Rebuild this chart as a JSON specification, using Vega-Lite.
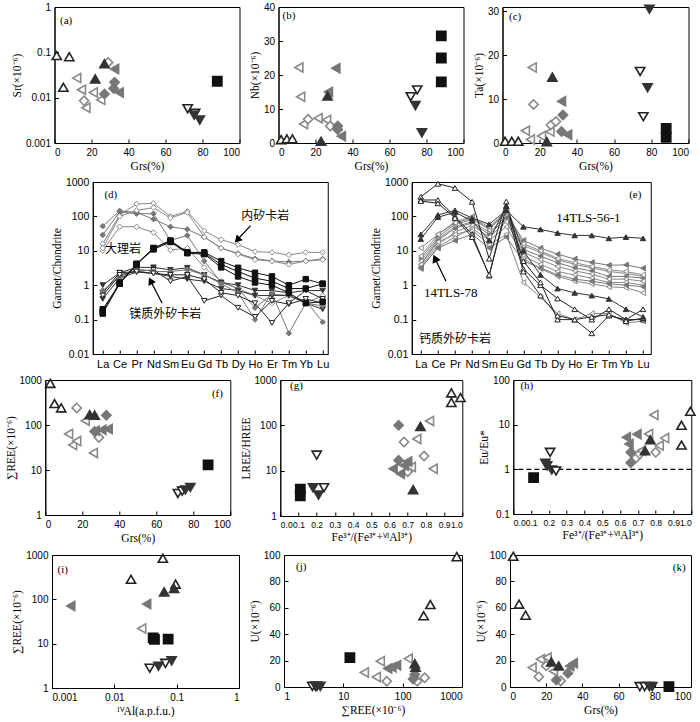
{
"$schema":"https://vega.github.io/schema/vega-lite/v6.json",
"background":"white",
"padding":{"left":4,"top":1,"right":2,"bottom":0},
"spacing":4,
"center":true,
"config":{
 "view":{"stroke":"black","strokeWidth":1},
 "axis":{"grid":false,"tickCount":60,"labelOverlap":false,"labelBound":false,"domainColor":"black","domainWidth":1,"tickColor":"black","tickSize":-4,"labelPadding":8,"labelFont":"Liberation Sans","labelFontSize":10,"labelColor":"black","titleFont":"Liberation Serif","titleFontSize":11.5,"titleFontWeight":"normal","titleColor":"black","titlePadding":3},
 "text":{"color":"black"}
},
"datasets":{
"pts":[
{"p":"a","g":"A","x":1.2,"y":0.085},{"p":"a","g":"A","x":8,"y":0.08},{"p":"a","g":"A","x":4.8,"y":0.017},
{"p":"a","g":"C","x":12,"y":0.027},{"p":"a","g":"C","x":14.6,"y":0.015},{"p":"a","g":"C","x":17,"y":0.006},{"p":"a","g":"C","x":21,"y":0.013},{"p":"a","g":"C","x":25,"y":0.009},
{"p":"a","g":"E","x":29,"y":0.06},{"p":"a","g":"E","x":16,"y":0.0085},
{"p":"a","g":"D","x":32.5,"y":0.043},{"p":"a","g":"D","x":35,"y":0.013},
{"p":"a","g":"F","x":27,"y":0.012},{"p":"a","g":"F","x":32.5,"y":0.022},{"p":"a","g":"F","x":32,"y":0.016},
{"p":"a","g":"B","x":27,"y":0.056},{"p":"a","g":"B","x":22,"y":0.026},
{"p":"a","g":"G","x":72,"y":0.0057},{"p":"a","g":"G","x":76,"y":0.0045},
{"p":"a","g":"H","x":75.5,"y":0.0041},{"p":"a","g":"H","x":78.5,"y":0.0032},
{"p":"a","g":"I","x":88,"y":0.023},

{"p":"b","g":"A","x":1.4,"y":1},{"p":"b","g":"A","x":4.5,"y":1.2},{"p":"b","g":"A","x":7.5,"y":1.2},
{"p":"b","g":"C","x":11,"y":22.2},{"p":"b","g":"C","x":12,"y":13.6},{"p":"b","g":"C","x":13.5,"y":5.6},{"p":"b","g":"C","x":21.4,"y":7.3},{"p":"b","g":"C","x":26,"y":6.8},
{"p":"b","g":"E","x":16,"y":7},{"p":"b","g":"E","x":28,"y":5},
{"p":"b","g":"D","x":31,"y":22},{"p":"b","g":"D","x":34,"y":2},{"p":"b","g":"D","x":27,"y":15},
{"p":"b","g":"F","x":32,"y":5},{"p":"b","g":"F","x":32,"y":4},
{"p":"b","g":"B","x":23,"y":0.5},{"p":"b","g":"B","x":26.5,"y":13.8},
{"p":"b","g":"G","x":71.5,"y":13.6},{"p":"b","g":"G","x":75,"y":15.6},
{"p":"b","g":"H","x":74,"y":11},{"p":"b","g":"H","x":77.5,"y":3},
{"p":"b","g":"I","x":88,"y":31.5},{"p":"b","g":"I","x":88,"y":25},{"p":"b","g":"I","x":88,"y":18},

{"p":"c","g":"A","x":1.4,"y":0.4},{"p":"c","g":"A","x":5,"y":0.4},{"p":"c","g":"A","x":8.5,"y":0.4},
{"p":"c","g":"C","x":12.3,"y":2.8},{"p":"c","g":"C","x":15,"y":0.8},{"p":"c","g":"C","x":16,"y":17.2},{"p":"c","g":"C","x":21,"y":1.6},{"p":"c","g":"C","x":25.5,"y":2.6},
{"p":"c","g":"E","x":16.7,"y":8.8},{"p":"c","g":"E","x":26,"y":4.1},{"p":"c","g":"E","x":28.7,"y":4.9},
{"p":"c","g":"D","x":31.7,"y":9.5},{"p":"c","g":"D","x":35,"y":1.9},
{"p":"c","g":"F","x":32.5,"y":6.4},{"p":"c","g":"F","x":31.7,"y":2.6},
{"p":"c","g":"B","x":23.8,"y":0.3},{"p":"c","g":"B","x":26.8,"y":15},
{"p":"c","g":"G","x":74,"y":16.3},{"p":"c","g":"G","x":75.7,"y":6},
{"p":"c","g":"H","x":79,"y":30.5},{"p":"c","g":"H","x":78,"y":12.6},
{"p":"c","g":"I","x":88,"y":3.3},{"p":"c","g":"I","x":88,"y":1.3},

{"p":"f","g":"A","x":2.7,"y":840},{"p":"f","g":"A","x":5,"y":300},{"p":"f","g":"A","x":8.6,"y":240},
{"p":"f","g":"C","x":12.6,"y":63},{"p":"f","g":"C","x":14.8,"y":36},{"p":"f","g":"C","x":17,"y":44},{"p":"f","g":"C","x":21.6,"y":125},{"p":"f","g":"C","x":26,"y":24},
{"p":"f","g":"E","x":17,"y":240},{"p":"f","g":"E","x":29,"y":53},
{"p":"f","g":"D","x":27,"y":75},{"p":"f","g":"D","x":30.6,"y":78},{"p":"f","g":"D","x":34,"y":81},
{"p":"f","g":"F","x":33,"y":165},{"p":"f","g":"F","x":26.7,"y":72},
{"p":"f","g":"B","x":24,"y":170},{"p":"f","g":"B","x":26.7,"y":165},
{"p":"f","g":"G","x":71.7,"y":3},{"p":"f","g":"G","x":74,"y":3.4},
{"p":"f","g":"H","x":75.7,"y":3.6},{"p":"f","g":"H","x":78.4,"y":4.1},
{"p":"f","g":"I","x":88,"y":13},

{"p":"g","g":"I","x":0.11,"y":3.9},{"p":"g","g":"I","x":0.11,"y":2.8},
{"p":"g","g":"H","x":0.18,"y":4.2},{"p":"g","g":"H","x":0.21,"y":2.9},
{"p":"g","g":"G","x":0.2,"y":22},{"p":"g","g":"G","x":0.24,"y":4.2},
{"p":"g","g":"E","x":0.68,"y":43},{"p":"g","g":"E","x":0.79,"y":21},{"p":"g","g":"E","x":0.7,"y":9.5},
{"p":"g","g":"C","x":0.75,"y":50},{"p":"g","g":"C","x":0.82,"y":125},{"p":"g","g":"C","x":0.72,"y":12},{"p":"g","g":"C","x":0.84,"y":11},
{"p":"g","g":"D","x":0.62,"y":11},{"p":"g","g":"D","x":0.66,"y":8.5},{"p":"g","g":"D","x":0.7,"y":16},{"p":"g","g":"D","x":0.68,"y":13},
{"p":"g","g":"F","x":0.65,"y":100},{"p":"g","g":"F","x":0.65,"y":17},
{"p":"g","g":"B","x":0.77,"y":95},{"p":"g","g":"B","x":0.73,"y":3.8},
{"p":"g","g":"A","x":0.94,"y":520},{"p":"g","g":"A","x":0.94,"y":320},{"p":"g","g":"A","x":0.99,"y":410},

{"p":"h","g":"I","x":0.114,"y":0.65},
{"p":"h","g":"H","x":0.18,"y":1.37},{"p":"h","g":"H","x":0.19,"y":1.2},{"p":"h","g":"H","x":0.216,"y":0.97},
{"p":"h","g":"G","x":0.207,"y":2.4},{"p":"h","g":"G","x":0.24,"y":0.92},
{"p":"h","g":"E","x":0.69,"y":1.8},{"p":"h","g":"E","x":0.8,"y":2.4},{"p":"h","g":"E","x":0.71,"y":2.2},
{"p":"h","g":"C","x":0.79,"y":16.5},{"p":"h","g":"C","x":0.76,"y":6.2},{"p":"h","g":"C","x":0.85,"y":5},{"p":"h","g":"C","x":0.82,"y":3.4},{"p":"h","g":"C","x":0.72,"y":2.6},
{"p":"h","g":"D","x":0.635,"y":5.2},{"p":"h","g":"D","x":0.695,"y":6.1},{"p":"h","g":"D","x":0.65,"y":3.7},
{"p":"h","g":"F","x":0.66,"y":2.4},{"p":"h","g":"F","x":0.66,"y":1.4},
{"p":"h","g":"B","x":0.77,"y":4.6},{"p":"h","g":"B","x":0.74,"y":2.6},
{"p":"h","g":"A","x":0.995,"y":20},{"p":"h","g":"A","x":0.945,"y":9.7},{"p":"h","g":"A","x":0.945,"y":3.5},

{"p":"i","g":"A","x":0.06,"y":845},{"p":"i","g":"A","x":0.0185,"y":283},{"p":"i","g":"A","x":0.096,"y":220},
{"p":"i","g":"B","x":0.063,"y":147},{"p":"i","g":"B","x":0.091,"y":175},
{"p":"i","g":"D","x":0.002,"y":71},{"p":"i","g":"D","x":0.033,"y":78},
{"p":"i","g":"C","x":0.0275,"y":22},
{"p":"i","g":"I","x":0.042,"y":13.5},{"p":"i","g":"I","x":0.044,"y":12.5},{"p":"i","g":"I","x":0.073,"y":12.7},
{"p":"i","g":"G","x":0.037,"y":2.8},{"p":"i","g":"G","x":0.066,"y":3.6},
{"p":"i","g":"H","x":0.051,"y":3.1},{"p":"i","g":"H","x":0.083,"y":4.1},

{"p":"j","g":"A","x":815,"y":98.7},{"p":"j","g":"A","x":293,"y":62.5},{"p":"j","g":"A","x":226,"y":54},
{"p":"j","g":"I","x":12.9,"y":22.3},
{"p":"j","g":"G","x":3.0,"y":0.5},{"p":"j","g":"G","x":3.4,"y":0.5},
{"p":"j","g":"H","x":3.6,"y":0.5},{"p":"j","g":"H","x":4.1,"y":0.5},
{"p":"j","g":"C","x":22.6,"y":11},{"p":"j","g":"C","x":36,"y":7.6},{"p":"j","g":"C","x":42,"y":19.5},{"p":"j","g":"C","x":124,"y":21.5},
{"p":"j","g":"D","x":56,"y":14},{"p":"j","g":"D","x":66,"y":15},{"p":"j","g":"D","x":79,"y":16.5},
{"p":"j","g":"E","x":54,"y":4.3},{"p":"j","g":"E","x":176,"y":4.3},{"p":"j","g":"E","x":235,"y":7},
{"p":"j","g":"F","x":160,"y":9.4},{"p":"j","g":"F","x":150,"y":6},
{"p":"j","g":"B","x":160,"y":17.7},{"p":"j","g":"B","x":165,"y":15},

{"p":"k","g":"A","x":1.8,"y":99},{"p":"k","g":"A","x":5,"y":62.8},{"p":"k","g":"A","x":8.6,"y":54.4},
{"p":"k","g":"C","x":12.2,"y":14.7},{"p":"k","g":"C","x":16.8,"y":21},{"p":"k","g":"C","x":20.5,"y":22.3},{"p":"k","g":"C","x":24,"y":12},
{"p":"k","g":"E","x":15.9,"y":7.8},{"p":"k","g":"E","x":28,"y":4.6},{"p":"k","g":"E","x":20,"y":16},
{"p":"k","g":"D","x":33,"y":16},{"p":"k","g":"D","x":35,"y":18},
{"p":"k","g":"F","x":32,"y":10.4},{"p":"k","g":"F","x":25.6,"y":5.3},
{"p":"k","g":"B","x":22.8,"y":19},{"p":"k","g":"B","x":26.9,"y":16},
{"p":"k","g":"G","x":71.7,"y":0.3},{"p":"k","g":"G","x":74.4,"y":0.3},
{"p":"k","g":"H","x":77,"y":0.3},{"p":"k","g":"H","x":78.6,"y":0.3},
{"p":"k","g":"I","x":87.8,"y":0.3}
],
"ree":[
{"p":"d","id":"d1","g":"E","i":[1,2,3,4,5,6,7,8,9,10,11,12,13,14],"v":[16,110,230,240,100,140,38,21,15,9.5,9,7.6,9,9]},
{"p":"d","id":"d2","g":"F","i":[1,2,3,4,5,6,7,8,9,10,11,12,13,14],"v":[52,145,130,83,50,42,25,12,8.4,5.9,5.1,4.7,5.1,5.8]},
{"p":"d","id":"d3","g":"F","i":[1,2,3,4,5,6,7,8,9,10,11,12,13,14],"v":[29,135,120,120,20,28,5,1.2,0.8,0.22,0.55,0.5,0.35,0.085]},
{"p":"d","id":"d4","g":"E","i":[1,2,3,4,5,6,7,8,9,10,11,12,13,14],"v":[10,50,50,34,10.5,12,3.3,1.3,0.8,0.5,0.3,0.5,0.3,0.5]},
{"p":"d","id":"d5","g":"E","i":[1,2,3,4,5,6,7,8,9,10,11,12,13,14],"v":[12,100,150,180,90,130,25,12,8,5.5,5,4,5,5.5]},
{"p":"d","id":"d9","g":"H","i":[1,2,3,4,5,6,7,8,9,10,11,12,13,14],"v":[1.0,2.3,3.3,3.3,2.8,3.2,2.0,1.2,1.0,0.7,0.7,0.6,0.7,0.7]},
{"p":"d","id":"d10","g":"G","i":[1,2,3,4,5,6,7,8,9,10,11,12,13,14],"v":[0.6,2.3,2.5,2.8,1.3,1.8,0.35,0.5,0.22,0.12,0.35,0.28,0.4,0.3]},
{"p":"d","id":"d11","g":"H","i":[1,2,3,4,5,6,7,8,9,10,11,12,13,14],"v":[0.4,1.6,2.4,2.2,1.8,1.5,1.3,0.8,0.7,0.5,0.5,0.5,0.3,0.2]},
{"p":"d","id":"d12","g":"F","i":[1,2,3,4,5,6,7,8,9,10,11,12,13,14],"v":[0.7,1.7,3,2.5,2.5,2.8,2.0,1.1,0.6,0.1,0.6,0.04,0.3,0.25]},
{"p":"d","id":"d13","g":"G","i":[1,2,3,4,5,6,7,8,9,10,11,12,13,14],"v":[0.5,2.0,2.5,2.2,2.0,2.0,1.5,0.6,0.5,0.3,0.08,0.3,0.7,0.4]},
{"p":"d","id":"d6","g":"I","i":[1,2,3,4,5,6,7,8,9,10,11,12,13,14],"v":[0.15,1.1,4.2,12,20,9,9,5,3.2,2.3,1.8,1.0,1.5,1.1]},
{"p":"d","id":"d7","g":"I","i":[1,2,3,4,5,6,7,8,9,10,11,12,13,14],"v":[0.2,1.1,4,12,19,9,8.5,4,2.5,1.6,1.3,0.8,0.8,1.1]},
{"p":"d","id":"d8","g":"I","i":[1,2,3,4,5,6,7,8,9,10,11,12,13,14],"v":[0.17,1.2,4.1,11,18,8.5,8,3.3,1.8,1.2,1.0,0.6,0.3,0.33]},

{"p":"e","id":"e6","g":"D","i":[1,2,3,4,5,6,7,8,9,10,11,12,13,14],"v":[6,25,60,80,45,120,20,12,8,5.8,4.6,3.8,3.9,3.1]},
{"p":"e","id":"e7","g":"C","i":[1,2,3,4,5,6,7,8,9,10,11,12,13,14],"v":[5,22,50,70,35,100,14,9,5.5,4,3.2,2.5,2.2,1.8]},
{"p":"e","id":"e8","g":"D","i":[1,2,3,4,5,6,7,8,9,10,11,12,13,14],"v":[4,20,45,65,30,90,11,7,4.5,3.2,2.6,1.8,1.8,1.6]},
{"p":"e","id":"e9","g":"C","i":[1,2,3,4,5,6,7,8,9,10,11,12,13,14],"v":[3.5,15,35,55,25,70,9,5.5,3.5,2.6,2.1,1.5,1.5,1.3]},
{"p":"e","id":"e10","g":"C","i":[1,2,3,4,5,6,7,8,9,10,11,12,13,14],"v":[3,13,25,45,20,50,7,4,2.5,2,1.6,1.2,1.2,1.0]},
{"p":"e","id":"e11","g":"C","i":[1,2,3,4,5,6,7,8,9,10,11,12,13,14],"v":[12,30,70,100,40,150,6,3,1.8,1.3,1.1,0.9,0.85,0.6]},
{"p":"e","id":"e12","g":"C","i":[1,2,3,4,5,6,7,8,9,10,11,12,13,14],"v":[4,18,30,40,15,30,1.2,0.45,0.15,0.1,0.15,0.15,0.08,0.09]},
{"p":"e","id":"e13","g":"D","i":[1,2,3,4,5,6,7,8,9,10,11,12,13,14],"v":[3.2,12,20,30,12,25,5,3.2,2,1.5,1.3,1.1,1.0,0.9]},
{"p":"e","id":"e14","g":"C","i":[1,2,3,4,5,6,7,8,9,10,11,12,13,14],"v":[7,30,65,90,50,130,16,10,6,4.5,3.5,2.8,2.5,2]},
{"p":"e","id":"e1","g":"A","i":[1,2,3,4,5,6,7,8,9,10,11,12,13,14],"v":[370,890,670,265,5.9,270,2.96,1.0,0.41,0.2,0.1,0.2,0.1,0.2]},
{"p":"e","id":"e2","g":"A","i":[1,2,3,4,5,6,7,8,9,10,11,12,13,14],"v":[300,300,100,30,1.9,200,5,1.2,0.1,0.1,0.04,0.13,0.1,0.1]},
{"p":"e","id":"e3","g":"A","i":[1,2,3,4,5,6,7,8,9,10,11,12,13,14],"v":[280,240,90,25,2,150,2.5,0.5,0.13,0.1,0.12,0.14,0.09,0.11]},
{"p":"e","id":"e4","g":"B","i":[1,2,3,4,5,6,7,8,9,10,11,12,13,14],"v":[30,110,150,90,59,150,50,42,33,28,28,23,25,23]},
{"p":"e","id":"e5","g":"B","i":[1,2,3,4,5,6,7,8,9,10,11,12,13,14],"v":[22,95,130,75,20,200,10,2,0.8,0.6,0.5,0.4,0.2,0.12]}
]
},
"vconcat":[
{"spacing":8,"hconcat":[
 {"width":185,"height":136,"data":{"name":"pts"},"transform":[{"filter":"datum.p=='a'"}],
  "layer":[
   {"mark":{"type":"point","filled":true,"size":85,"strokeWidth":1.6,"opacity":1},
    "encoding":{
     "x":{"field":"x","type":"quantitative","scale":{"domain":[0,100],"nice":false},"axis":{"title":"Grs(%)","values":[0,20,40,60,80,100],"format":"d"}},
     "y":{"field":"y","type":"quantitative","scale":{"type":"log","domain":[0.001,1],"nice":false},"axis":{"title":"Sr(×10⁻⁶)","values":[0.001,0.01,0.1,1],"format":"~g"}},
     "shape":{"field":"g","type":"nominal","scale":{"domain":["A","B","C","D","E","F","G","H","I"],"range":["triangle-up","triangle-up","triangle-left","triangle-left","diamond","diamond","triangle-down","triangle-down","square"]},"legend":null},
     "fill":{"field":"g","type":"nominal","scale":{"domain":["A","B","C","D","E","F","G","H","I"],"range":["#ffffff","#333333","#ffffff","#777777","#ffffff","#777777","#ffffff","#333333","#111111"]},"legend":null},
     "stroke":{"field":"g","type":"nominal","scale":{"domain":["A","B","C","D","E","F","G","H","I"],"range":["#222222","#333333","#888888","#777777","#888888","#777777","#222222","#333333","#111111"]},"legend":null}}},
   {"data":{"values":[{"t":"(a)","x":3,"y":0.5}]},"mark":{"type":"text","align":"left","baseline":"middle","font":"Liberation Serif","fontSize":11},
    "encoding":{"x":{"field":"x","type":"quantitative"},"y":{"field":"y","type":"quantitative"},"text":{"field":"t"}}}
  ]},
 {"width":185,"height":136,"data":{"name":"pts"},"transform":[{"filter":"datum.p=='b'"}],
  "layer":[
   {"mark":{"type":"point","filled":true,"size":85,"strokeWidth":1.6,"opacity":1},
    "encoding":{
     "x":{"field":"x","type":"quantitative","scale":{"domain":[0,100],"nice":false},"axis":{"title":"Grs(%)","values":[0,20,40,60,80,100],"format":"d"}},
     "y":{"field":"y","type":"quantitative","scale":{"domain":[0,40],"nice":false},"axis":{"title":"Nb(×10⁻⁶)","values":[0,10,20,30,40],"format":"d"}},
     "shape":{"field":"g","type":"nominal","scale":{"domain":["A","B","C","D","E","F","G","H","I"],"range":["triangle-up","triangle-up","triangle-left","triangle-left","diamond","diamond","triangle-down","triangle-down","square"]},"legend":null},
     "fill":{"field":"g","type":"nominal","scale":{"domain":["A","B","C","D","E","F","G","H","I"],"range":["#ffffff","#333333","#ffffff","#777777","#ffffff","#777777","#ffffff","#333333","#111111"]},"legend":null},
     "stroke":{"field":"g","type":"nominal","scale":{"domain":["A","B","C","D","E","F","G","H","I"],"range":["#222222","#333333","#888888","#777777","#888888","#777777","#222222","#333333","#111111"]},"legend":null}}},
   {"data":{"values":[{"t":"(b)","x":2.2,"y":37.5}]},"mark":{"type":"text","align":"left","baseline":"middle","font":"Liberation Serif","fontSize":11},
    "encoding":{"x":{"field":"x","type":"quantitative"},"y":{"field":"y","type":"quantitative"},"text":{"field":"t"}}}
  ]},
 {"width":186,"height":136,"data":{"name":"pts"},"transform":[{"filter":"datum.p=='c'"}],
  "layer":[
   {"mark":{"type":"point","filled":true,"size":85,"strokeWidth":1.6,"opacity":1},
    "encoding":{
     "x":{"field":"x","type":"quantitative","scale":{"domain":[0,100],"nice":false},"axis":{"title":"Grs(%)","values":[0,20,40,60,80,100],"format":"d"}},
     "y":{"field":"y","type":"quantitative","scale":{"domain":[0,31],"nice":false},"axis":{"title":"Ta(×10⁻⁶)","values":[0,10,20,30],"format":"d"}},
     "shape":{"field":"g","type":"nominal","scale":{"domain":["A","B","C","D","E","F","G","H","I"],"range":["triangle-up","triangle-up","triangle-left","triangle-left","diamond","diamond","triangle-down","triangle-down","square"]},"legend":null},
     "fill":{"field":"g","type":"nominal","scale":{"domain":["A","B","C","D","E","F","G","H","I"],"range":["#ffffff","#333333","#ffffff","#777777","#ffffff","#777777","#ffffff","#333333","#111111"]},"legend":null},
     "stroke":{"field":"g","type":"nominal","scale":{"domain":["A","B","C","D","E","F","G","H","I"],"range":["#222222","#333333","#888888","#777777","#888888","#777777","#222222","#333333","#111111"]},"legend":null}}},
   {"data":{"values":[{"t":"(c)","x":3.5,"y":28.8}]},"mark":{"type":"text","align":"left","baseline":"middle","font":"Liberation Serif","fontSize":11},
    "encoding":{"x":{"field":"x","type":"quantitative"},"y":{"field":"y","type":"quantitative"},"text":{"field":"t"}}}
  ]}
]},
{"spacing":40,"hconcat":[
 {"width":235,"height":172,"data":{"name":"ree"},"transform":[{"filter":"datum.p=='d'"},{"flatten":["i","v"]}],
  "layer":[
   {"mark":{"type":"line","strokeWidth":1},
    "encoding":{
     "x":{"field":"i","type":"quantitative","scale":{"domain":[0.41,14.3],"nice":false},"axis":{"title":null,"values":[1,2,3,4,5,6,7,8,9,10,11,12,13,14],"labelExpr":"['','La','Ce','Pr','Nd','Sm','Eu','Gd','Tb','Dy','Ho','Er','Tm','Yb','Lu'][datum.value]","labelFontSize":11}},
     "y":{"field":"v","type":"quantitative","scale":{"type":"log","domain":[0.01,1000],"nice":false},"axis":{"title":"Garnet/Chondrite","values":[0.01,0.1,1,10,100,1000],"format":"~g","labelFontSize":10.5}},
     "detail":{"field":"id"},
     "stroke":{"field":"g","type":"nominal","scale":{"domain":["A","B","C","D","E","F","G","H","I"],"range":["#222222","#333333","#888888","#777777","#888888","#777777","#444444","#444444","#111111"]},"legend":null},
     "strokeWidth":{"field":"g","type":"nominal","scale":{"domain":["A","B","C","D","E","F","G","H","I"],"range":[1,1,1,1,1.2,1.2,1,1,2.2]},"legend":null}}},
   {"mark":{"type":"point","filled":true,"size":30,"strokeWidth":1,"opacity":1},
    "encoding":{
     "x":{"field":"i","type":"quantitative"},
     "y":{"field":"v","type":"quantitative"},
     "shape":{"field":"g","type":"nominal","scale":{"domain":["A","B","C","D","E","F","G","H","I"],"range":["triangle-up","triangle-up","triangle-left","triangle-left","diamond","diamond","triangle-down","triangle-down","square"]},"legend":null},
     "fill":{"field":"g","type":"nominal","scale":{"domain":["A","B","C","D","E","F","G","H","I"],"range":["#ffffff","#333333","#ffffff","#777777","#ffffff","#777777","#ffffff","#333333","#111111"]},"legend":null},
     "stroke":{"field":"g","type":"nominal","scale":{"domain":["A","B","C","D","E","F","G","H","I"],"range":["#222222","#333333","#888888","#777777","#888888","#777777","#222222","#333333","#111111"]},"legend":null}}},
   {"data":{"values":[{"t":"(d)","x":1.1,"y":415}]},"mark":{"type":"text","align":"left","baseline":"middle","font":"Liberation Serif","fontSize":11},
    "encoding":{"x":{"field":"x","type":"quantitative"},"y":{"field":"y","type":"quantitative"},"text":{"field":"t"}}},
   {"data":{"values":[{"t":"内矽卡岩","x":10.6,"y":100},{"t":"大理岩","x":2.2,"y":11},{"t":"镁质外矽卡岩","x":4.7,"y":0.15}]},"mark":{"type":"text","align":"center","baseline":"middle","font":"Noto Sans CJK SC","fontSize":12},
    "encoding":{"x":{"field":"x","type":"quantitative"},"y":{"field":"y","type":"quantitative"},"text":{"field":"t"}}},
   {"data":{"values":[{"x":9.74,"y":54,"x2":9.0,"y2":22},{"x":4.51,"y":0.3,"x2":3.86,"y2":1.25}]},"mark":{"type":"rule","strokeWidth":1.2,"color":"black"},
    "encoding":{"x":{"field":"x","type":"quantitative"},"y":{"field":"y","type":"quantitative"},"x2":{"field":"x2"},"y2":{"field":"y2"}}},
   {"data":{"values":[{"x2":9.0,"y2":22}]},"mark":{"type":"point","shape":"triangle","filled":true,"opacity":1,"color":"black","size":70,"angle":224},
    "encoding":{"x":{"field":"x2","type":"quantitative"},"y":{"field":"y2","type":"quantitative"}}},
   {"data":{"values":[{"x2":3.86,"y2":1.25}]},"mark":{"type":"point","shape":"triangle","filled":true,"opacity":1,"color":"black","size":70,"angle":333},
    "encoding":{"x":{"field":"x2","type":"quantitative"},"y":{"field":"y2","type":"quantitative"}}}
  ]},
 {"width":239,"height":172,"data":{"name":"ree"},"transform":[{"filter":"datum.p=='e'"},{"flatten":["i","v"]}],
  "layer":[
   {"mark":{"type":"line","strokeWidth":1},
    "encoding":{
     "x":{"field":"i","type":"quantitative","scale":{"domain":[0.47,14.45],"nice":false},"axis":{"title":null,"values":[1,2,3,4,5,6,7,8,9,10,11,12,13,14],"labelExpr":"['','La','Ce','Pr','Nd','Sm','Eu','Gd','Tb','Dy','Ho','Er','Tm','Yb','Lu'][datum.value]","labelFontSize":11}},
     "y":{"field":"v","type":"quantitative","scale":{"type":"log","domain":[0.01,1000],"nice":false},"axis":{"title":"Garnet/Chondrite","values":[0.01,0.1,1,10,100,1000],"format":"~g","labelFontSize":10.5}},
     "detail":{"field":"id"},
     "stroke":{"field":"g","type":"nominal","scale":{"domain":["A","B","C","D","E","F","G","H","I"],"range":["#222222","#333333","#999999","#888888","#888888","#777777","#444444","#444444","#111111"]},"legend":null}}},
   {"mark":{"type":"point","filled":true,"size":30,"strokeWidth":1,"opacity":1},
    "encoding":{
     "x":{"field":"i","type":"quantitative"},
     "y":{"field":"v","type":"quantitative"},
     "shape":{"field":"g","type":"nominal","scale":{"domain":["A","B","C","D","E","F","G","H","I"],"range":["triangle-up","triangle-up","triangle-left","triangle-left","diamond","diamond","triangle-down","triangle-down","square"]},"legend":null},
     "fill":{"field":"g","type":"nominal","scale":{"domain":["A","B","C","D","E","F","G","H","I"],"range":["#ffffff","#333333","#ffffff","#888888","#ffffff","#777777","#ffffff","#333333","#111111"]},"legend":null},
     "stroke":{"field":"g","type":"nominal","scale":{"domain":["A","B","C","D","E","F","G","H","I"],"range":["#222222","#333333","#999999","#888888","#888888","#777777","#222222","#333333","#111111"]},"legend":null}}},
   {"data":{"values":[{"t":"(e)","x":13.9,"y":430}]},"mark":{"type":"text","align":"right","baseline":"middle","font":"Liberation Serif","fontSize":11},
    "encoding":{"x":{"field":"x","type":"quantitative"},"y":{"field":"y","type":"quantitative"},"text":{"field":"t"}}},
   {"data":{"values":[{"t":"14TLS-56-1","x":10.8,"y":88},{"t":"14TLS-78","x":2.75,"y":0.6}]},"mark":{"type":"text","align":"center","baseline":"middle","font":"Liberation Serif","fontSize":13},
    "encoding":{"x":{"field":"x","type":"quantitative"},"y":{"field":"y","type":"quantitative"},"text":{"field":"t"}}},
   {"data":{"values":[{"t":"钙质外矽卡岩","x":3.0,"y":0.027}]},"mark":{"type":"text","align":"center","baseline":"middle","font":"Noto Sans CJK SC","fontSize":12},
    "encoding":{"x":{"field":"x","type":"quantitative"},"y":{"field":"y","type":"quantitative"},"text":{"field":"t"}}},
   {"data":{"values":[{"x":2.47,"y":1.3,"x2":1.86,"y2":5.6}]},"mark":{"type":"rule","strokeWidth":1.2,"color":"black"},
    "encoding":{"x":{"field":"x","type":"quantitative"},"y":{"field":"y","type":"quantitative"},"x2":{"field":"x2"},"y2":{"field":"y2"}}},
   {"data":{"values":[{"x2":1.86,"y2":5.6}]},"mark":{"type":"point","shape":"triangle","filled":true,"opacity":1,"color":"black","size":80,"angle":335},
    "encoding":{"x":{"field":"x2","type":"quantitative"},"y":{"field":"y2","type":"quantitative"}}}
  ]}
]},
{"spacing":8,"hconcat":[
 {"width":185,"height":135,"data":{"name":"pts"},"transform":[{"filter":"datum.p=='f'"}],
  "layer":[
   {"mark":{"type":"point","filled":true,"size":85,"strokeWidth":1.6,"opacity":1},
    "encoding":{
     "x":{"field":"x","type":"quantitative","scale":{"domain":[0,100],"nice":false},"axis":{"title":"Grs(%)","values":[0,20,40,60,80,100],"format":"d"}},
     "y":{"field":"y","type":"quantitative","scale":{"type":"log","domain":[1,1000],"nice":false},"axis":{"title":"∑REE(×10⁻⁶)","values":[1,10,100,1000],"format":"~g"}},
     "shape":{"field":"g","type":"nominal","scale":{"domain":["A","B","C","D","E","F","G","H","I"],"range":["triangle-up","triangle-up","triangle-left","triangle-left","diamond","diamond","triangle-down","triangle-down","square"]},"legend":null},
     "fill":{"field":"g","type":"nominal","scale":{"domain":["A","B","C","D","E","F","G","H","I"],"range":["#ffffff","#333333","#ffffff","#777777","#ffffff","#777777","#ffffff","#333333","#111111"]},"legend":null},
     "stroke":{"field":"g","type":"nominal","scale":{"domain":["A","B","C","D","E","F","G","H","I"],"range":["#222222","#333333","#888888","#777777","#888888","#777777","#222222","#333333","#111111"]},"legend":null}}},
   {"data":{"values":[{"t":"(f)","x":96,"y":500}]},"mark":{"type":"text","align":"right","baseline":"middle","font":"Liberation Serif","fontSize":11},
    "encoding":{"x":{"field":"x","type":"quantitative"},"y":{"field":"y","type":"quantitative"},"text":{"field":"t"}}}
  ]},
 {"width":182,"height":136,"data":{"name":"pts"},"transform":[{"filter":"datum.p=='g'"}],
  "layer":[
   {"mark":{"type":"point","filled":true,"size":85,"strokeWidth":1.6,"opacity":1},
    "encoding":{
     "x":{"field":"x","type":"quantitative","scale":{"domain":[0,1],"nice":false},"axis":{"title":"Fe³⁺/(Fe³⁺+ⱽᴵAl³⁺)","values":[0,0.1,0.2,0.3,0.4,0.5,0.6,0.7,0.8,0.9,1],"format":".1f","labelFontSize":8.5}},
     "y":{"field":"y","type":"quantitative","scale":{"type":"log","domain":[1,1000],"nice":false},"axis":{"title":"LREE/HREE","values":[1,10,100,1000],"format":"~g"}},
     "shape":{"field":"g","type":"nominal","scale":{"domain":["A","B","C","D","E","F","G","H","I"],"range":["triangle-up","triangle-up","triangle-left","triangle-left","diamond","diamond","triangle-down","triangle-down","square"]},"legend":null},
     "fill":{"field":"g","type":"nominal","scale":{"domain":["A","B","C","D","E","F","G","H","I"],"range":["#ffffff","#333333","#ffffff","#777777","#ffffff","#777777","#ffffff","#333333","#111111"]},"legend":null},
     "stroke":{"field":"g","type":"nominal","scale":{"domain":["A","B","C","D","E","F","G","H","I"],"range":["#222222","#333333","#888888","#777777","#888888","#777777","#222222","#333333","#111111"]},"legend":null}}},
   {"data":{"values":[{"t":"(g)","x":0.054,"y":740}]},"mark":{"type":"text","align":"left","baseline":"middle","font":"Liberation Serif","fontSize":11},
    "encoding":{"x":{"field":"x","type":"quantitative"},"y":{"field":"y","type":"quantitative"},"text":{"field":"t"}}}
  ]},
 {"width":178,"height":134,"data":{"name":"pts"},"transform":[{"filter":"datum.p=='h'"}],
  "layer":[
   {"data":{"values":[{}]},"mark":{"type":"rule","strokeDash":[5,3],"strokeWidth":1.4,"color":"black"},"encoding":{"y":{"datum":1}}},
   {"mark":{"type":"point","filled":true,"size":85,"strokeWidth":1.6,"opacity":1},
    "encoding":{
     "x":{"field":"x","type":"quantitative","scale":{"domain":[0,1],"nice":false},"axis":{"title":"Fe³⁺/(Fe³⁺+ⱽᴵAl³⁺)","values":[0,0.1,0.2,0.3,0.4,0.5,0.6,0.7,0.8,0.9,1],"format":".1f","labelFontSize":8.5}},
     "y":{"field":"y","type":"quantitative","scale":{"type":"log","domain":[0.1,100],"nice":false},"axis":{"title":"Eu/Eu*","values":[0.1,1,10,100],"format":"~g"}},
     "shape":{"field":"g","type":"nominal","scale":{"domain":["A","B","C","D","E","F","G","H","I"],"range":["triangle-up","triangle-up","triangle-left","triangle-left","diamond","diamond","triangle-down","triangle-down","square"]},"legend":null},
     "fill":{"field":"g","type":"nominal","scale":{"domain":["A","B","C","D","E","F","G","H","I"],"range":["#ffffff","#333333","#ffffff","#777777","#ffffff","#777777","#ffffff","#333333","#111111"]},"legend":null},
     "stroke":{"field":"g","type":"nominal","scale":{"domain":["A","B","C","D","E","F","G","H","I"],"range":["#222222","#333333","#888888","#777777","#888888","#777777","#222222","#333333","#111111"]},"legend":null}}},
   {"data":{"values":[{"t":"(h)","x":0.04,"y":73}]},"mark":{"type":"text","align":"left","baseline":"middle","font":"Liberation Serif","fontSize":11},
    "encoding":{"x":{"field":"x","type":"quantitative"},"y":{"field":"y","type":"quantitative"},"text":{"field":"t"}}}
  ]}
]},
{"spacing":8,"hconcat":[
 {"width":187,"height":133,"data":{"name":"pts"},"transform":[{"filter":"datum.p=='i'"}],
  "layer":[
   {"mark":{"type":"point","filled":true,"size":85,"strokeWidth":1.6,"opacity":1},
    "encoding":{
     "x":{"field":"x","type":"quantitative","scale":{"type":"log","domain":[0.001,1],"nice":false},"axis":{"title":"ᴵⱽAl(a.p.f.u.)","values":[0.001,0.01,0.1,1],"format":"~g"}},
     "y":{"field":"y","type":"quantitative","scale":{"type":"log","domain":[1,1000],"nice":false},"axis":{"title":"∑REE(×10⁻⁶)","values":[1,10,100,1000],"format":"~g"}},
     "shape":{"field":"g","type":"nominal","scale":{"domain":["A","B","C","D","E","F","G","H","I"],"range":["triangle-up","triangle-up","triangle-left","triangle-left","diamond","diamond","triangle-down","triangle-down","square"]},"legend":null},
     "fill":{"field":"g","type":"nominal","scale":{"domain":["A","B","C","D","E","F","G","H","I"],"range":["#ffffff","#333333","#ffffff","#777777","#ffffff","#777777","#ffffff","#333333","#111111"]},"legend":null},
     "stroke":{"field":"g","type":"nominal","scale":{"domain":["A","B","C","D","E","F","G","H","I"],"range":["#222222","#333333","#888888","#777777","#888888","#777777","#222222","#333333","#111111"]},"legend":null}}},
   {"data":{"values":[{"t":"(i)","x":0.00123,"y":470}]},"mark":{"type":"text","align":"left","baseline":"middle","font":"Liberation Serif","fontSize":11},
    "encoding":{"x":{"field":"x","type":"quantitative"},"y":{"field":"y","type":"quantitative"},"text":{"field":"t"}}}
  ]},
 {"width":178,"height":132,"data":{"name":"pts"},"transform":[{"filter":"datum.p=='j'"}],
  "layer":[
   {"mark":{"type":"point","filled":true,"size":85,"strokeWidth":1.6,"opacity":1},
    "encoding":{
     "x":{"field":"x","type":"quantitative","scale":{"type":"log","domain":[1,1000],"nice":false},"axis":{"title":"∑REE(×10⁻⁶)","values":[1,10,100,1000],"format":"~g"}},
     "y":{"field":"y","type":"quantitative","scale":{"domain":[0,100],"nice":false},"axis":{"title":"U(×10⁻⁶)","values":[0,20,40,60,80,100],"format":"d"}},
     "shape":{"field":"g","type":"nominal","scale":{"domain":["A","B","C","D","E","F","G","H","I"],"range":["triangle-up","triangle-up","triangle-left","triangle-left","diamond","diamond","triangle-down","triangle-down","square"]},"legend":null},
     "fill":{"field":"g","type":"nominal","scale":{"domain":["A","B","C","D","E","F","G","H","I"],"range":["#ffffff","#333333","#ffffff","#777777","#ffffff","#777777","#ffffff","#333333","#111111"]},"legend":null},
     "stroke":{"field":"g","type":"nominal","scale":{"domain":["A","B","C","D","E","F","G","H","I"],"range":["#222222","#333333","#888888","#777777","#888888","#777777","#222222","#333333","#111111"]},"legend":null}}},
   {"data":{"values":[{"t":"(j)","x":1.6,"y":91}]},"mark":{"type":"text","align":"left","baseline":"middle","font":"Liberation Serif","fontSize":11},
    "encoding":{"x":{"field":"x","type":"quantitative"},"y":{"field":"y","type":"quantitative"},"text":{"field":"t"}}}
  ]},
 {"width":181,"height":132,"data":{"name":"pts"},"transform":[{"filter":"datum.p=='k'"}],
  "layer":[
   {"mark":{"type":"point","filled":true,"size":85,"strokeWidth":1.6,"opacity":1},
    "encoding":{
     "x":{"field":"x","type":"quantitative","scale":{"domain":[0,100],"nice":false},"axis":{"title":"Grs(%)","values":[0,20,40,60,80,100],"format":"d"}},
     "y":{"field":"y","type":"quantitative","scale":{"domain":[0,100],"nice":false},"axis":{"title":"U(×10⁻⁶)","values":[0,20,40,60,80,100],"format":"d"}},
     "shape":{"field":"g","type":"nominal","scale":{"domain":["A","B","C","D","E","F","G","H","I"],"range":["triangle-up","triangle-up","triangle-left","triangle-left","diamond","diamond","triangle-down","triangle-down","square"]},"legend":null},
     "fill":{"field":"g","type":"nominal","scale":{"domain":["A","B","C","D","E","F","G","H","I"],"range":["#ffffff","#333333","#ffffff","#777777","#ffffff","#777777","#ffffff","#333333","#111111"]},"legend":null},
     "stroke":{"field":"g","type":"nominal","scale":{"domain":["A","B","C","D","E","F","G","H","I"],"range":["#222222","#333333","#888888","#777777","#888888","#777777","#222222","#333333","#111111"]},"legend":null}}},
   {"data":{"values":[{"t":"(k)","x":97,"y":90}]},"mark":{"type":"text","align":"right","baseline":"middle","font":"Liberation Serif","fontSize":11},
    "encoding":{"x":{"field":"x","type":"quantitative"},"y":{"field":"y","type":"quantitative"},"text":{"field":"t"}}}
  ]}
]}
]
}
